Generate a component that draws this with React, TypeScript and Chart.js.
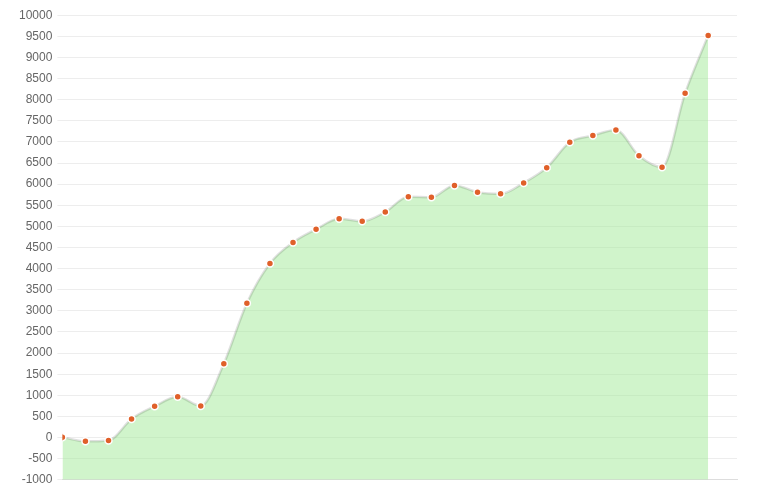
import React, { useEffect, useRef } from "react";
import { Chart, registerables } from "chart.js";

Chart.register(...registerables);

const categories: number[] = Array.from({ length: 29 }, (_, i) => i);
const values: number[] = [
  10, -90, -70, 440, 740, 965, 750, 1750, 3180, 4120, 4620, 4930, 5180, 5120,
  5340, 5700, 5690, 5970, 5810, 5770, 6030, 6390, 6990, 7150, 7280, 6670, 6400,
  8150, 9520,
];
const yMin = -1000;
const yMax = 10000;
const yStep = 500;

export default function App() {
  const ref = useRef<HTMLCanvasElement | null>(null);
  useEffect(() => {
    if (!ref.current) return;
    const chart = new Chart(ref.current, {
      type: "line",
      data: {
        datasets: [
          {
            data: categories.map((c, i) => ({ x: c, y: values[i] })),
            fill: "start",
            backgroundColor: "rgba(150, 230, 140, 0.45)",
            borderColor: "rgba(0, 0, 0, 0.12)",
            borderWidth: 2.5,
            tension: 0.4,
            cubicInterpolationMode: "monotone",
            pointRadius: 3.5,
            pointBorderWidth: 1.5,
            pointBackgroundColor: "#e0602a",
            pointBorderColor: "#ffffff",
          },
        ],
      },
      options: {
        animation: false,
        responsive: false,
        maintainAspectRatio: false,
        layout: { padding: { top: 0, right: 14, bottom: 0, left: 6 } },
        plugins: { legend: { display: false }, tooltip: { enabled: false } },
        scales: {
          x: {
            type: "linear",
            min: 0,
            max: 29.25,
            ticks: { display: false },
            grid: { display: false, drawTicks: false },
            border: { display: true, color: "#dddddd" },
          },
          y: {
            min: yMin,
            max: yMax,
            ticks: {
              stepSize: yStep,
              color: "#666666",
              font: { family: "'Liberation Sans', Arial, sans-serif", size: 12 },
              padding: 5,
              callback: (v: any) => String(v),
            },
            grid: { color: "rgba(0,0,0,0.07)", tickLength: 5 },
            border: { display: false },
          },
        },
      },
    });
    return () => chart.destroy();
  }, []);
  return (
    <div style={{ width: 743, height: 489, marginTop: -5 }}>
      <canvas ref={ref} width={743} height={489} />
    </div>
  );
}
